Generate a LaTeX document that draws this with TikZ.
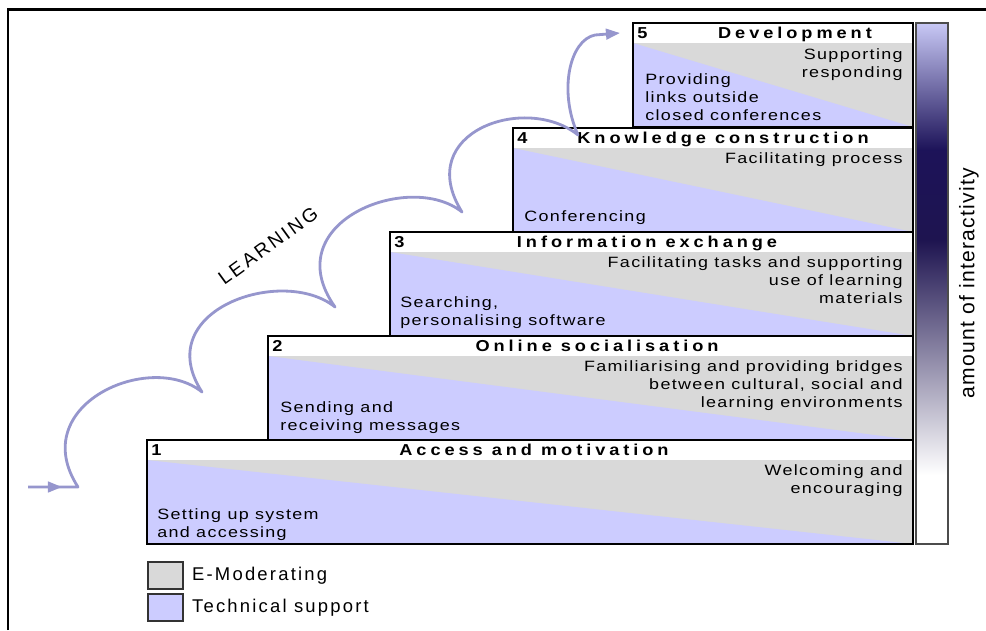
\documentclass[tikz,border=0pt]{standalone}
\usepackage{fontspec}
\setmainfont{Liberation Sans}
\newfontfamily\bodyfont[FakeStretch=1.2, LetterSpace=9]{Liberation Sans}
\newfontfamily\headfont[FakeStretch=1.15, LetterSpace=25]{Liberation Sans}
\newfontfamily\legfont[LetterSpace=12]{Liberation Sans}
\newfontfamily\sidefont[LetterSpace=6]{Liberation Sans}
\newfontfamily\learnfont[LetterSpace=14]{Liberation Sans}
\usetikzlibrary{arrows.meta, positioning}
\definecolor{TechBlue}{RGB}{204,204,255}
\definecolor{ModGray}{RGB}{217,217,217}
\definecolor{PathBlue}{RGB}{150,150,205}
\definecolor{DeepNavy}{RGB}{30,20,80}
\definecolor{PaleViolet}{RGB}{200,200,245}

\begin{document}
\begin{tikzpicture}[x=0.02cm, y=-0.02cm,
	stepline/.style={draw=black, line width=1pt},
	head/.style={font=\headfont\bfseries\fontsize{9}{10}\selectfont, inner sep=0pt},
	emod/.style={font=\bodyfont\fontsize{8.5}{10}\selectfont, align=right, anchor=base east, inner sep=0pt},
	tech/.style={font=\bodyfont\fontsize{8.5}{10}\selectfont, align=left, anchor=base west, inner sep=0pt},
	learnpath/.style={draw=PathBlue, line width=1.6pt, line join=round},
	legbox/.style={draw=black!80, line width=1pt, minimum width=0.7cm, minimum height=0.54cm, inner sep=0pt, anchor=north west},
	legtext/.style={font=\legfont\fontsize{10.5}{12}\selectfont, inner sep=0pt},
	]
	\useasboundingbox (0,0) rectangle (986,630);
	\draw[line width=1.7pt] (8,630) -- (8,9) -- (986,9);

	% the five steps
	\foreach \n/\xl/\yt/\xc/\title in {1/147/440/534/Access and motivation, 2/268/336/597/Online socialisation, 3/390/232/647/Information exchange, 4/513/128/723/Knowledge construction, 5/633/23/795/Development}
	{
		\fill[ModGray] (\xl,\yt+20) rectangle (913,\yt+104);
		\fill[TechBlue] (\xl,\yt+20) -- (913,\yt+104) -- (\xl,\yt+104) -- cycle;
		\draw[stepline] (\xl,\yt) rectangle (913,\yt+104);
		\node[head, anchor=base west] (num\n) at (\xl+4,\yt+15) {\n};
		\node[head, anchor=base] (title\n) at (\xc,\yt+15) {\title};
	}

	% texts sit on the baseline of their last line
	\node[emod] (e5) at (903,77.5) {Supporting\\responding};
	\node[tech] (t5) at (645,120) {Providing\\links outside\\closed conferences};
	\node[emod] (e4) at (903,163) {Facilitating process};
	\node[tech] (t4) at (524,221) {Conferencing};
	\node[emod] (e3) at (903,303) {Facilitating tasks and supporting\\use of learning\\materials};
	\node[tech] (t3) at (400,325.5) {Searching,\\personalising software};
	\node[emod] (e2) at (903,407) {Familiarising and providing bridges\\between cultural, social and\\learning environments};
	\node[tech] (t2) at (280,430.5) {Sending and\\receiving messages};
	\node[emod] (e1) at (903,493.5) {Welcoming and\\encouraging};
	\node[tech] (t1) at (157,537.5) {Setting up system\\and accessing};

	% interactivity bar
	\shade[top color=PaleViolet, bottom color=DeepNavy!95!blue] (916,23) rectangle (948,150);
	\shade[top color=DeepNavy!95!blue, bottom color=DeepNavy] (916,150) rectangle (948,240);
	\shade[top color=DeepNavy, bottom color=white] (916,240) rectangle (948,475);
	\draw[draw=black!70, line width=1pt] (916,23) rectangle (948,544);
	\node[rotate=90, font=\sidefont\fontsize{12}{14}\selectfont] (amount) at (969,283) {amount of interactivity};

	% learning path
	\coordinate (entry) at (28,487);
	\coordinate (entrytip) at (62,487);
	\coordinate (c0) at (78,487);
	\coordinate (c1) at (202,392);
	\coordinate (c2) at (335,307);
	\coordinate (c3) at (462,212);
	\coordinate (c4) at (578,135);
	\coordinate (top) at (595,35);
	\coordinate (goal) at (620,33);
	\draw[learnpath, -{Triangle[length=8pt, width=6pt]}] (entry) -- (c0)
		.. controls +(-53,-82) and +(-52,-42) .. (c1)
		.. controls +(-53,-82) and +(-52,-42) .. (c2)
		.. controls +(-60,-85) and +(-52,-42) .. (c3)
		.. controls +(-50,-80) and +(-52,-42) .. (c4)
		.. controls +(-20,-45) and +(-25,5) .. (top) -- (goal);
	\draw[learnpath, -{Triangle[length=8pt, width=6pt]}] (entry) -- (entrytip);
	\node[rotate=36, font=\learnfont\fontsize{11}{12}\selectfont] (learning) at (268,246) {LEARNING};

	% legend
	\node[legbox, fill=ModGray] (legmod) at (147,561) {};
	\node[legbox, fill=TechBlue] (legtech) at (147,593) {};
	\node[legtext, right=0.16cm of legmod] (legmodtext) {E-Moderating};
	\node[legtext, right=0.16cm of legtech] (legtechtext) {Technical support};
\end{tikzpicture}
\end{document}
